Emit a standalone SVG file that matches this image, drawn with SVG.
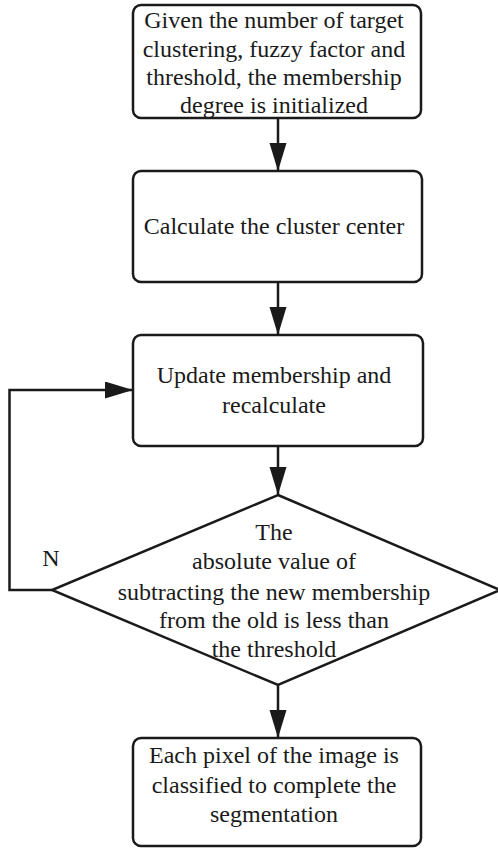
<svg xmlns="http://www.w3.org/2000/svg" width="498" height="848" viewBox="0 0 498 848">
<style>
.box{fill:#fff;stroke:#1a1a1a;stroke-width:2.5}
.t{font-family:"Liberation Serif","Times New Roman",serif;font-size:24px;fill:#1a1a1a;text-anchor:middle}
.c{fill:none;stroke:#1a1a1a;stroke-width:2.5}
</style>
<defs>
<marker id="ah" markerUnits="userSpaceOnUse" markerWidth="30" markerHeight="18" refX="28" refY="8.5" orient="auto">
<path d="M0,0 L28,8.5 L0,17 Z" fill="#1a1a1a"/>
</marker>
</defs>
<rect width="498" height="848" fill="#fff"/>
<g id="connectors">
<line class="c" x1="278" y1="118" x2="278" y2="171" marker-end="url(#ah)"/>
<line class="c" x1="278" y1="282" x2="278" y2="335" marker-end="url(#ah)"/>
<line class="c" x1="278" y1="446" x2="278" y2="495" marker-end="url(#ah)"/>
<line class="c" x1="278" y1="685" x2="278" y2="738" marker-end="url(#ah)"/>
<polyline class="c" points="52,590 9.5,590 9.5,390 133,390" marker-end="url(#ah)"/>
<text class="t" x="51" y="566">N</text>
</g>
<g id="init">
<rect class="box" x="133" y="5" width="288" height="113" rx="8"/>
<text class="t" x="274" y="28">Given the number of target</text>
<text class="t" x="274" y="57">clustering, fuzzy factor and</text>
<text class="t" x="274" y="85">threshold, the membership</text>
<text class="t" x="274" y="113">degree is initialized</text>
</g>
<g id="center">
<rect class="box" x="133" y="171" width="289" height="111" rx="8"/>
<text class="t" x="274" y="234">Calculate the cluster center</text>
</g>
<g id="update">
<rect class="box" x="133" y="335" width="290" height="111" rx="8"/>
<text class="t" x="274" y="383">Update membership and</text>
<text class="t" x="274" y="413">recalculate</text>
</g>
<g id="decision">
<polygon class="box" points="278,495 500,590 278,685 52,590"/>
<text class="t" x="274" y="540">The</text>
<text class="t" x="274" y="569">absolute value of</text>
<text class="t" x="274" y="600">subtracting the new membership</text>
<text class="t" x="274" y="628">from the old is less than</text>
<text class="t" x="274" y="657">the threshold</text>
</g>
<g id="classify">
<rect class="box" x="133" y="738" width="288" height="108" rx="8"/>
<text class="t" x="274" y="763">Each pixel of the image is</text>
<text class="t" x="274" y="793">classified to complete the</text>
<text class="t" x="274" y="822">segmentation</text>
</g>
</svg>
